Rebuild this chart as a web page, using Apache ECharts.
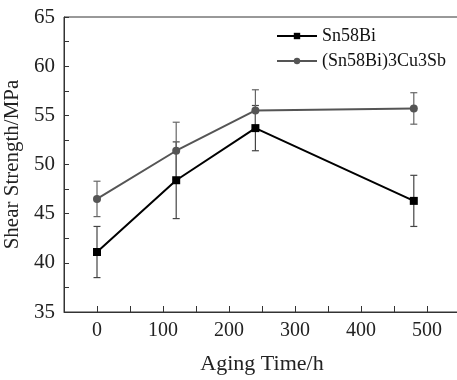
<!DOCTYPE html>
<html>
<head>
<meta charset="utf-8">
<script src="https://cdn.jsdelivr.net/npm/echarts@6/dist/echarts.min.js"></script>
<style>
  html, body { margin: 0; padding: 0; background: #fff; }
  #chart { width: 457px; height: 380px; }
</style>
</head>
<body>
<div id="chart"></div>
<script>
const agingTime = [0, 120, 240, 480];
const sn58bi = [41.1, 48.4, 53.7, 46.3];
const sn58biErr = [2.6, 3.9, 2.3, 2.6];
const cuSb = [46.5, 51.4, 55.5, 55.7];
const cuSbErr = [1.8, 2.9, 2.1, 1.6];

const font = "Liberation Serif";

// error bar with caps, drawn through the axis scales
function errorBars(values, errs, color) {
  return {
    type: "custom",
    z: 1,
    silent: true,
    data: agingTime.map((t, i) => [t, values[i] - errs[i], values[i] + errs[i]]),
    renderItem: (params, api) => {
      const lo = api.coord([api.value(0), api.value(1)]);
      const hi = api.coord([api.value(0), api.value(2)]);
      const w = 3.5;
      const st = { stroke: color, lineWidth: 1.2 };
      return {
        type: "group",
        children: [
          { type: "line", shape: { x1: lo[0], y1: lo[1], x2: hi[0], y2: hi[1] }, style: st },
          { type: "line", shape: { x1: lo[0] - w, y1: lo[1], x2: lo[0] + w, y2: lo[1] }, style: st },
          { type: "line", shape: { x1: hi[0] - w, y1: hi[1], x2: hi[0] + w, y2: hi[1] }, style: st },
        ],
      };
    },
  };
}

const chart = echarts.init(document.getElementById("chart"));

const option = {
  animation: false,
  textStyle: { fontFamily: font },
  grid: {
    left: 64, top: 17, width: 396, height: 295,
    outerBoundsMode: "none",
    containLabel: false,
    show: true, borderColor: "#333", borderWidth: 1,
  },
  legend: {
    data: ["Sn58Bi", "(Sn58Bi)3Cu3Sb"],
    orient: "vertical",
    left: 271, top: 22,
    itemWidth: 40, itemHeight: 8, itemGap: 7,
    textStyle: { fontFamily: font, fontSize: 18, color: "#111" },
  },
  xAxis: {
    type: "value",
    min: -50, max: 550, interval: 50,
    name: "Aging Time/h",
    nameLocation: "middle",
    nameGap: 41,
    nameTextStyle: { fontFamily: font, fontSize: 22, color: "#222" },
    axisLine: { onZero: false, lineStyle: { color: "#333", width: 1 } },
    axisTick: { inside: true, length: 6, lineStyle: { color: "#333" } },
    axisLabel: {
      fontFamily: font, fontSize: 20, color: "#222", margin: 9,
      formatter: v => (v % 100 === 0 && v >= 0 && v <= 500 ? String(v) : ""),
    },
    splitLine: { show: false },
  },
  yAxis: {
    type: "value",
    min: 35, max: 65, interval: 2.5,
    name: "Shear Strength/MPa",
    nameLocation: "middle",
    nameGap: 36,
    nameTextStyle: { fontFamily: font, fontSize: 21, color: "#222" },
    axisLine: { onZero: false, lineStyle: { color: "#333", width: 1 } },
    axisTick: { inside: true, length: 5, lineStyle: { color: "#333" } },
    axisLabel: {
      fontFamily: font, fontSize: 21, color: "#222", margin: 9,
      formatter: v => (v % 5 === 0 ? String(v) : ""),
    },
    splitLine: { show: false },
  },
  series: [
    errorBars(sn58bi, sn58biErr, "#444"),
    errorBars(cuSb, cuSbErr, "#666"),
    {
      name: "Sn58Bi",
      type: "line",
      z: 3,
      data: agingTime.map((t, i) => [t, sn58bi[i]]),
      symbol: "rect",
      symbolSize: 8,
      lineStyle: { color: "#000", width: 2 },
      itemStyle: { color: "#000" },
    },
    {
      name: "(Sn58Bi)3Cu3Sb",
      type: "line",
      z: 2,
      data: agingTime.map((t, i) => [t, cuSb[i]]),
      symbol: "circle",
      symbolSize: 8,
      lineStyle: { color: "#555", width: 2 },
      itemStyle: { color: "#555" },
    },
  ],
};

chart.setOption(option);
</script>
</body>
</html>
